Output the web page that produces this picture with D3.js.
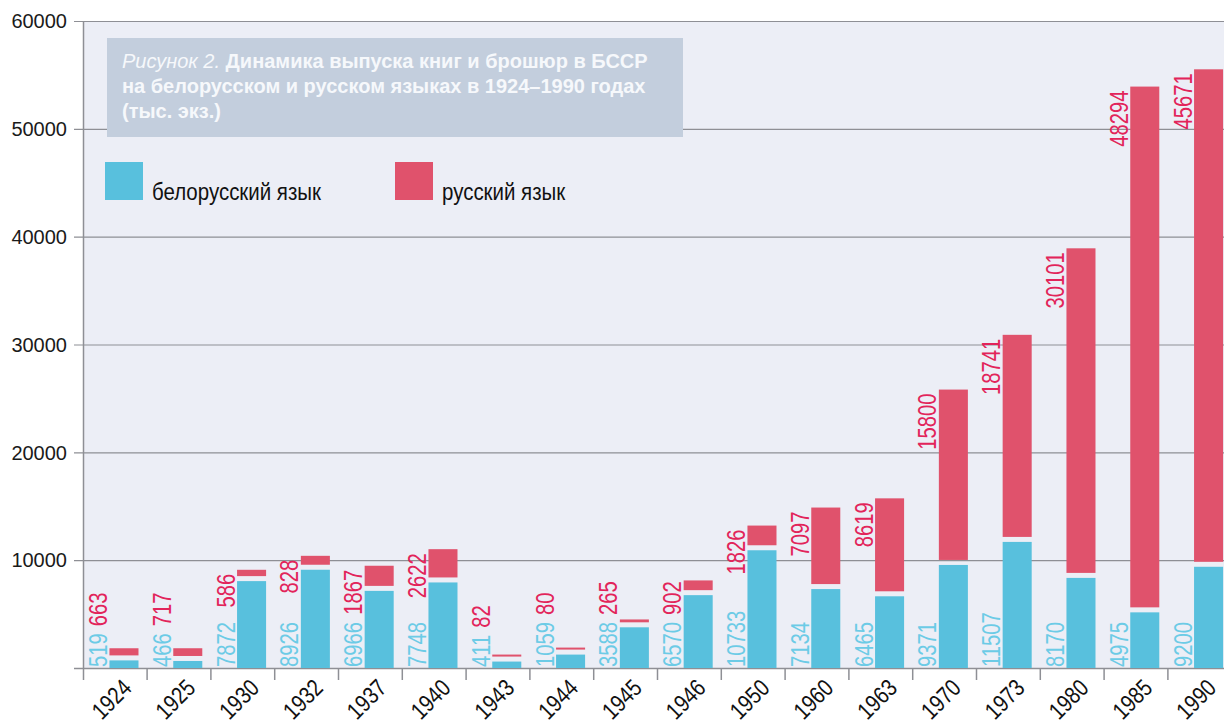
<!DOCTYPE html>
<html>
<head>
<meta charset="utf-8">
<script src="https://cdn.jsdelivr.net/npm/d3@7"></script>
<style>
  body { margin: 0; background: #fff; }
  svg { display: block; }
  text { font-family: "Liberation Sans", Arial, sans-serif; }
</style>
</head>
<body>
<svg width="1224" height="720"></svg>
<script>
var years = ["1924", "1925", "1930", "1932", "1937", "1940", "1943", "1944", "1945",
             "1946", "1950", "1960", "1963", "1970", "1973", "1980", "1985", "1990"];
var belarusian = [519, 466, 7872, 8926, 6966, 7748, 411, 1059, 3588,
                  6570, 10733, 7134, 6465, 9371, 11507, 8170, 4975, 9200];
var russian = [663, 717, 586, 828, 1867, 2622, 82, 80, 265,
               902, 1826, 7097, 8619, 15800, 18741, 30101, 48294, 45671];
var yTicks = [0, 10000, 20000, 30000, 40000, 50000, 60000];

var blue = "#58c0dd", red = "#e0526c";
var blueText = "#6ccbe6", redText = "#e2245a";
var squeeze = 0.81;   // fake a condensed face

var svg = d3.select("svg"),
    width = +svg.attr("width"),
    height = +svg.attr("height");

var y = d3.scaleLinear().domain([0, 60000]).range([668, 21]);
var x = d3.scaleBand().domain(years).range([83.3, 1231.7]);
var bw = x.bandwidth();

// plot background
svg.append("rect")
    .attr("x", 83).attr("y", y(60000))
    .attr("width", width - 83).attr("height", y(0) - y(60000))
    .attr("fill", "#eceef6");

// grid
svg.append("g").selectAll("line").data(yTicks.slice(1)).enter().append("line")
    .attr("x1", 74).attr("x2", width)
    .attr("y1", d => y(d) + 0.5).attr("y2", d => y(d) + 0.5)
    .attr("stroke", "#8e8f95").attr("stroke-width", 1.2);

// y labels
svg.append("g").selectAll("text").data(yTicks.slice(1)).enter().append("text")
    .attr("x", 67).attr("y", d => y(d))
    .attr("dy", "0.36em")
    .attr("text-anchor", "end")
    .attr("font-size", 20)
    .attr("fill", "#1a1a1a")
    .text(d => d);

// title box
var tg = svg.append("g");
tg.append("rect")
    .attr("x", 107).attr("y", 38).attr("width", 576).attr("height", 99)
    .attr("fill", "#c3cedd");
var t1 = tg.append("text").attr("x", 122).attr("y", 68)
    .attr("font-size", 20).attr("fill", "#f6f8fb");
t1.append("tspan").attr("font-style", "italic").text("Рисунок 2. ");
t1.append("tspan").attr("font-weight", "bold").text("Динамика выпуска книг и брошюр в БССР");
tg.append("text").attr("x", 122).attr("y", 93)
    .attr("font-size", 20).attr("font-weight", "bold").attr("fill", "#f6f8fb")
    .text("на белорусском и русском языках в 1924–1990 годах");
tg.append("text").attr("x", 122).attr("y", 118)
    .attr("font-size", 20).attr("font-weight", "bold").attr("fill", "#f6f8fb")
    .text("(тыс. экз.)");

// legend
var legend = [
  {name: "белорусский язык", color: blue, x: 105},
  {name: "русский язык", color: red, x: 395}
];
var lg = svg.append("g").selectAll("g").data(legend).enter().append("g")
    .attr("transform", d => "translate(" + d.x + ",162)");
lg.append("rect").attr("width", 38).attr("height", 38).attr("fill", d => d.color);
lg.append("text")
    .attr("transform", "translate(47,38) scale(0.89,1)")
    .attr("font-size", 23).attr("fill", "#111")
    .text(d => d.name);

// axes lines
svg.append("line").attr("x1", 83.5).attr("x2", 83.5).attr("y1", y(60000)).attr("y2", 680)
    .attr("stroke", "#8e8f95").attr("stroke-width", 1.5);
svg.append("line").attr("x1", 74).attr("x2", width).attr("y1", 668.5).attr("y2", 668.5)
    .attr("stroke", "#8e8f95").attr("stroke-width", 1.5);
svg.append("g").selectAll("line").data(years.slice(1)).enter().append("line")
    .attr("x1", d => x(d)).attr("x2", d => x(d))
    .attr("y1", 668).attr("y2", 680)
    .attr("stroke", "#8e8f95").attr("stroke-width", 1.5);

// bars
var data = years.map((d, i) => ({year: d, b: belarusian[i], r: russian[i]}));
var gap = 5;

var bars = svg.append("g").selectAll("g").data(data).enter().append("g");
bars.each(function(d) {
  d.blueTop = y(d.b) - 2;
  d.redBottom = d.blueTop - gap;
  d.redTop = d.redBottom - Math.max(2, y(0) - y(d.r));
});
bars.append("rect")
    .attr("x", d => x(d.year) + bw * 0.41)
    .attr("width", bw * 0.455)
    .attr("y", d => d.blueTop)
    .attr("height", d => y(0) - d.blueTop)
    .attr("fill", blue);
bars.append("rect")
    .attr("x", d => x(d.year) + bw * 0.41)
    .attr("width", bw * 0.455)
    .attr("y", d => d.redTop)
    .attr("height", d => d.redBottom - d.redTop)
    .attr("fill", red);

// value labels
var lbl = svg.append("g").selectAll("g").data(data).enter().append("g");
lbl.append("text")
    .attr("transform", d => "translate(" + (x(d.year) + bw * 0.372) + ",667) rotate(-90) scale(" + squeeze + ",1)")
    .attr("font-size", 25).attr("fill", blueText)
    .text(d => d.b)
    .each(function(d) { d.blueLabelTop = 667 - this.getComputedTextLength() * squeeze; });
lbl.append("text")
    .attr("font-size", 25).attr("fill", redText)
    .attr("text-anchor", "end")
    .text(d => d.r)
    .attr("transform", function(d) {
      var len = this.getComputedTextLength() * squeeze;
      var end = Math.min(d.redTop + 4, d.blueLabelTop - 7 - len);
      return "translate(" + (x(d.year) + bw * 0.372) + "," + end + ") rotate(-90) scale(" + squeeze + ",1)";
    });

// x labels
svg.append("g").selectAll("text").data(years).enter().append("text")
    .attr("transform", d => "translate(" + (x(d) + bw / 2 - 4) + ",699) rotate(-45) scale(0.83,1)")
    .attr("text-anchor", "middle")
    .attr("dy", "0.36em")
    .attr("font-size", 24).attr("fill", "#111")
    .text(d => d);
</script>
</body>
</html>
